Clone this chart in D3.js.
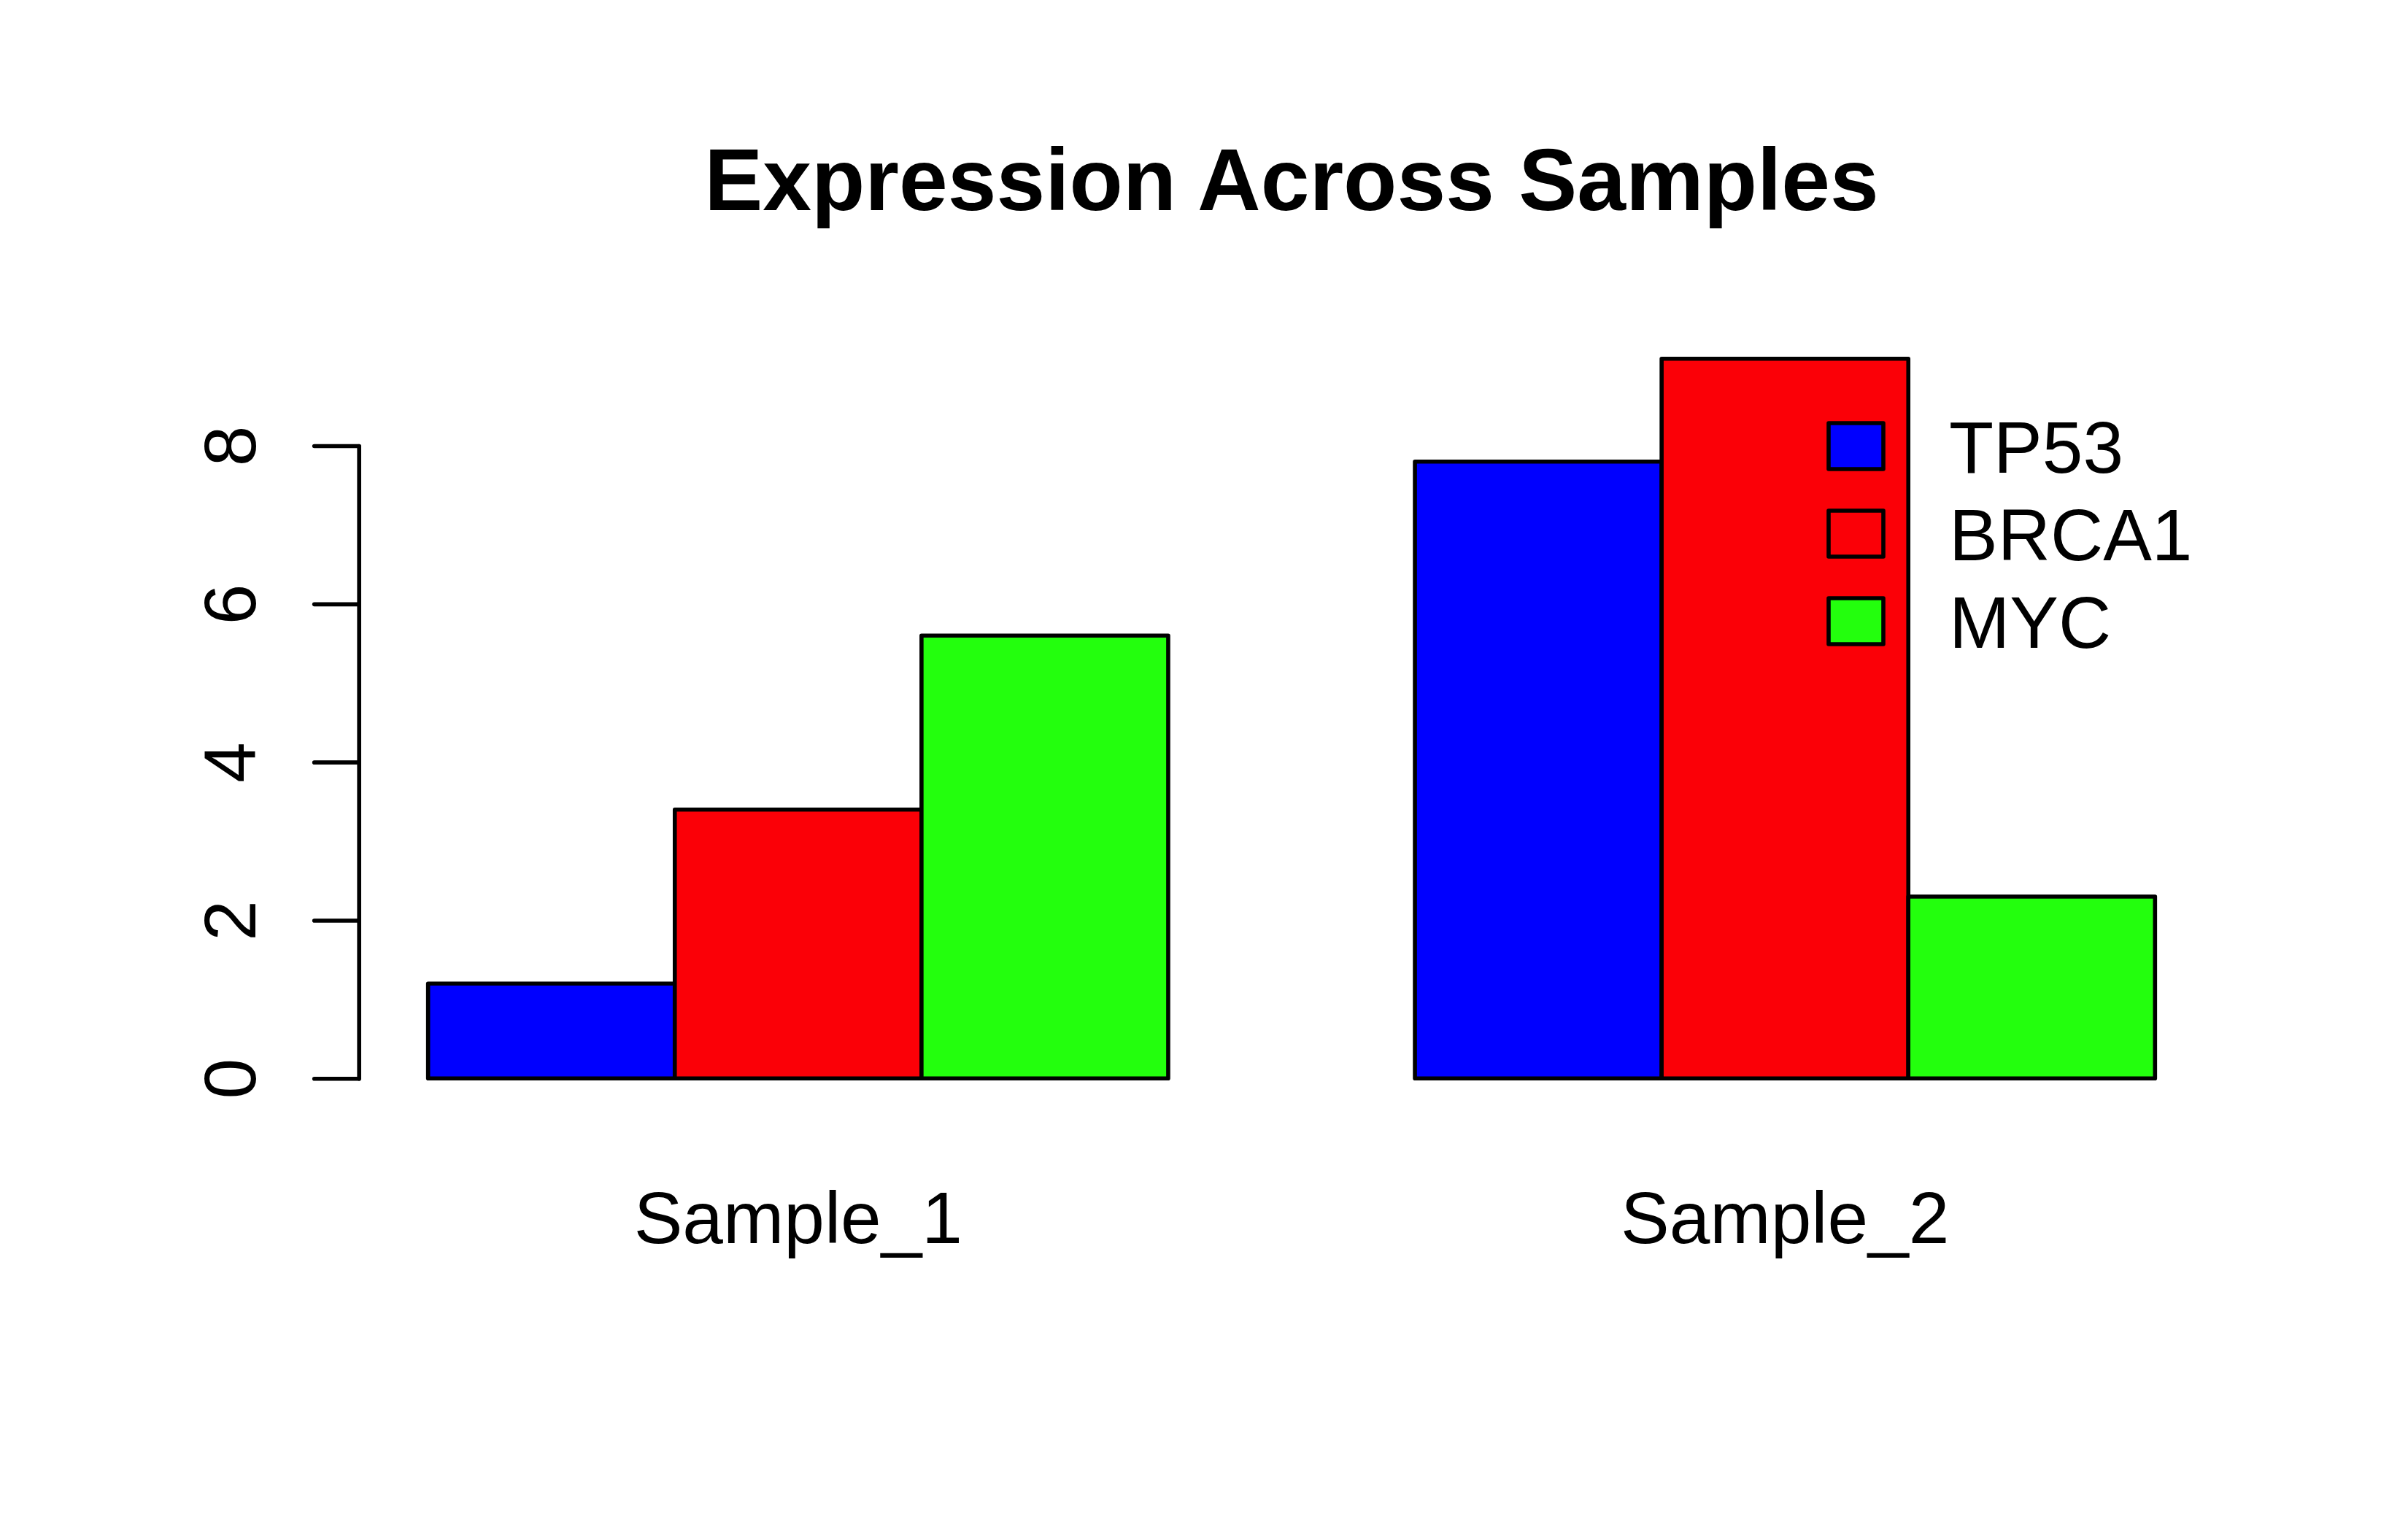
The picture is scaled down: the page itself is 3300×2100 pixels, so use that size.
<!DOCTYPE html>
<html>
<head>
<meta charset="utf-8">
<script src="https://cdn.jsdelivr.net/npm/d3@7"></script>
<style>
  body { margin: 0; background: #fff; }
  text { font-family: "Liberation Sans", Arial, Helvetica, sans-serif; fill: #000; }
</style>
</head>
<body>
<svg id="chart" width="3300" height="2100"></svg>
<script>
// data
var samples = ['Sample_1', 'Sample_2']
var genes = ['TP53', 'BRCA1', 'MYC']
var tp53 = [1.2, 7.8]
var brca1 = [3.4, 9.1]
var myc = [5.6, 2.3]
var geneColors = ['#0000ff', '#fb0007', '#23ff0d']
var yTicks = [0, 2, 4, 6, 8]

var series = [tp53, brca1, myc]

var svg = d3.select('#chart')
svg.append('rect')
  .attr('width', 3300).attr('height', 2100)
  .style('fill', '#fff')

// plot region (R-style margins)
var plot = { left: 492, right: 3048 }
var lw = 5.6

var x0 = d3.scaleBand()
  .domain(samples)
  .range([plot.left, plot.right])
  .paddingInner(0.25)
  .paddingOuter(0.07)

var x1 = d3.scaleBand()
  .domain(genes)
  .range([0, x0.bandwidth()])

var y = d3.scaleLinear()
  .domain([0, 8])
  .range([1478.3, 611])

// bars
var cells = []
samples.forEach(function (s, i) {
  genes.forEach(function (g, j) {
    cells.push({ sample: s, gene: g, value: series[j][i], color: geneColors[j] })
  })
})

svg.append('g').selectAll('rect')
  .data(cells)
  .enter().append('rect')
  .attr('x', function (d) { return x0(d.sample) + x1(d.gene) })
  .attr('y', function (d) { return y(d.value) })
  .attr('width', x1.bandwidth())
  .attr('height', function (d) { return y(0) - y(d.value) })
  .style('fill', function (d) { return d.color })
  .style('stroke', '#000')
  .style('stroke-width', lw)
  .style('stroke-linejoin', 'round')

// y axis
var yAxis = svg.append('g')
  .attr('transform', 'translate(491.7,0)')
  .call(d3.axisLeft(y).tickValues(yTicks).tickSize(61).tickSizeOuter(0))

yAxis.select('.domain')
  .style('stroke', '#000').style('stroke-width', lw).style('stroke-linecap', 'round')
yAxis.selectAll('.tick line')
  .style('stroke', '#000').style('stroke-width', lw).style('stroke-linecap', 'round')
yAxis.selectAll('.tick text')
  .attr('x', null).attr('dy', null)
  .attr('transform', 'translate(-141.5,0) rotate(-90)')
  .attr('text-anchor', 'middle')
  .style('font-family', '"Liberation Sans", Arial, sans-serif')
  .style('font-size', '100px')
  .style('fill', '#000')

// sample names under the groups
svg.append('g').selectAll('text')
  .data(samples)
  .enter().append('text')
  .attr('x', function (d) { return x0(d) + x0.bandwidth() / 2 })
  .attr('y', 1704)
  .attr('text-anchor', 'middle')
  .style('font-size', '100px')
  .text(function (d) { return d })

// title
svg.append('text')
  .attr('x', (plot.left + plot.right) / 2)
  .attr('y', 288)
  .attr('text-anchor', 'middle')
  .style('font-size', '120px')
  .style('font-weight', 'bold')
  .text('Expression Across Samples')

// legend
var legend = svg.append('g')
  .attr('transform', 'translate(2506,580)')

var item = legend.selectAll('g')
  .data(genes)
  .enter().append('g')
  .attr('transform', function (d, i) { return 'translate(0,' + (i * 120) + ')' })

item.append('rect')
  .attr('width', 75).attr('height', 63)
  .style('fill', function (d, i) { return geneColors[i] })
  .style('stroke', '#000')
  .style('stroke-width', lw)
  .style('stroke-linejoin', 'round')

item.append('text')
  .attr('x', 165)
  .attr('y', 68)
  .style('font-size', '100px')
  .text(function (d) { return d })
</script>
</body>
</html>
